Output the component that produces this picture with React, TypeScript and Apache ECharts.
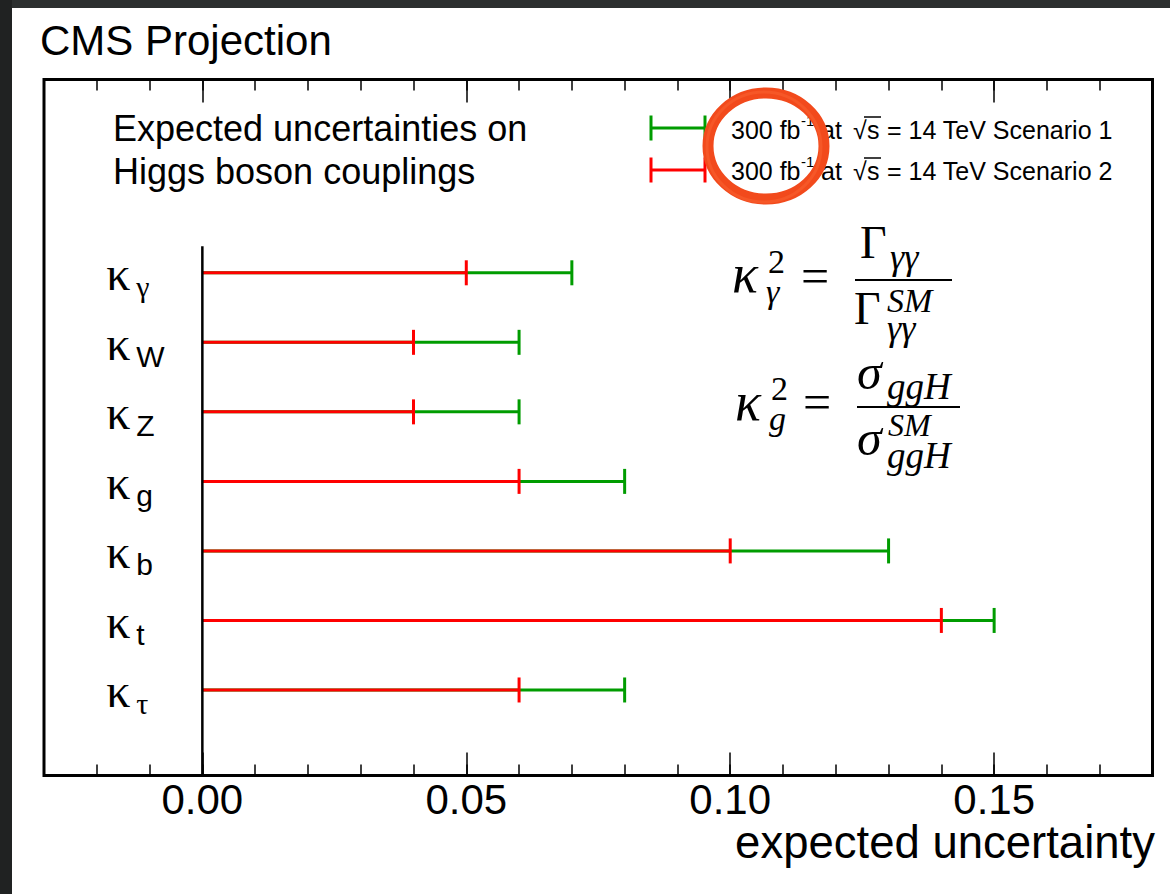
import { useEffect, useRef } from "react";
import * as echarts from "echarts";

// ---- data ----
const categories = ["γ", "W", "Z", "g", "b", "t", "τ"];
const greekSub = [true, false, false, false, false, false, true];
const scenario2 = [0.05, 0.04, 0.04, 0.06, 0.1, 0.14, 0.06]; // red
const scenario1 = [0.07, 0.06, 0.06, 0.08, 0.13, 0.15, 0.08]; // green
const minorTicks = [
  -0.02, -0.01, 0, 0.01, 0.02, 0.03, 0.04, 0.05, 0.06, 0.07, 0.08, 0.09, 0.1,
  0.11, 0.12, 0.13, 0.14, 0.15, 0.16, 0.17,
];
const majorTicks = [0, 0.05, 0.1, 0.15];
const axisLinePoints = [
  [0, -0.38],
  [0, 7.23],
];
const legendTexts = ["Scenario 1", "Scenario 2"];

const RED = "#ff0000";
const GREEN = "#009c00";
const SANS = "'Liberation Sans', Arial, Helvetica, sans-serif";
const SERIF = "'Liberation Serif', 'Times New Roman', serif";

function txt(
  text: string,
  x: number,
  y: number,
  size: number,
  opts: { family?: string; style?: string; align?: string; fill?: string; z?: number } = {}
) {
  const align = opts.align || "left";
  return {
    type: "text",
    x,
    y,
    z: opts.z ?? 10,
    silent: true,
    style: {
      text,
      fill: opts.fill || "#000",
      fontSize: size,
      fontFamily: opts.family || SANS,
      fontStyle: opts.style || "normal",
      align,
      textAlign: align,
      verticalAlign: "middle",
      textVerticalAlign: "middle",
    },
  };
}

function ln(x1: number, y1: number, x2: number, y2: number, color: string, w: number) {
  return {
    type: "line",
    z: 10,
    silent: true,
    shape: { x1, y1, x2, y2 },
    style: { stroke: color, lineWidth: w },
  };
}

function legendRow(y: number, color: string, textY: number, label: string) {
  const els: any[] = [
    ln(651, y, 705, y, color, 3),
    ln(651, y - 12.5, 651, y + 12.5, color, 3),
    ln(705, y - 12.5, 705, y + 12.5, color, 3),
    txt("300 fb", 731, textY, 25),
    txt("-1", 801, textY - 10, 15),
    txt("at", 821, textY, 25),
    txt("√", 853, textY, 25),
    txt("s", 867, textY, 25),
    ln(864, textY - 13, 881, textY - 13, "#000", 1.5),
    txt("= 14 TeV " + label, 887, textY, 25),
  ];
  return els;
}

export default function App() {
  const ref = useRef<HTMLDivElement>(null);

  useEffect(() => {
    document.body.style.margin = "0";
    if (!ref.current) return;
    const chart = echarts.init(ref.current, undefined, { renderer: "svg" });

    const xBase = {
      type: "value",
      min: -0.03,
      max: 0.18,
      gridIndex: 0,
      axisLine: { show: false, onZero: false },
      splitLine: { show: false },
    };

    const option: any = {
      animation: false,
      backgroundColor: "#ffffff",
      grid: {
        left: 44,
        right: 17.5,
        top: 79.5,
        bottom: 118.5,
        show: true,
        borderColor: "#000",
        borderWidth: 3,
        backgroundColor: "transparent",
      },
      xAxis: [
        {
          ...xBase,
          position: "bottom",
          axisTick: {
            show: true,
            inside: true,
            length: 11,
            customValues: minorTicks,
            lineStyle: { color: "#000", width: 1.5 },
          },
          axisLabel: { show: false },
        },
        {
          ...xBase,
          position: "bottom",
          axisTick: {
            show: true,
            inside: true,
            length: 23,
            customValues: majorTicks,
            lineStyle: { color: "#000", width: 1.5 },
          },
          axisLabel: {
            show: true,
            customValues: majorTicks,
            formatter: (v: number) => v.toFixed(2),
            fontSize: 42,
            fontFamily: SANS,
            color: "#000",
            margin: 3,
          },
        },
        {
          ...xBase,
          position: "top",
          axisTick: {
            show: true,
            inside: true,
            length: 11,
            customValues: minorTicks,
            lineStyle: { color: "#000", width: 1.5 },
          },
          axisLabel: { show: false },
        },
        {
          ...xBase,
          position: "top",
          axisTick: {
            show: true,
            inside: true,
            length: 23,
            customValues: majorTicks,
            lineStyle: { color: "#000", width: 1.5 },
          },
          axisLabel: { show: false },
        },
      ],
      yAxis: {
        type: "value",
        min: -2.78,
        max: 7.23,
        inverse: true,
        show: false,
        axisLine: { onZero: false },
        splitLine: { show: false },
      },
      series: [
        {
          type: "custom",
          xAxisIndex: 0,
          yAxisIndex: 0,
          encode: { x: [1, 2], y: 0 },
          data: categories.map((_, i) => [i, scenario2[i], scenario1[i]]),
          z: 3,
          renderItem: (_params: any, api: any) => {
            const i = api.value(0);
            const r = api.value(1);
            const g = api.value(2);
            const p0 = api.coord([0, i]);
            const pr = api.coord([r, i]);
            const pg = api.coord([g, i]);
            const cap = 12.5;
            const st = (c: string) => ({ stroke: c, lineWidth: 3 });
            return {
              type: "group",
              children: [
                { type: "line", shape: { x1: p0[0], y1: p0[1], x2: pg[0], y2: pg[1] }, style: st(GREEN) },
                { type: "line", shape: { x1: pg[0], y1: pg[1] - cap, x2: pg[0], y2: pg[1] + cap }, style: st(GREEN) },
                { type: "line", shape: { x1: p0[0], y1: p0[1], x2: pr[0], y2: pr[1] }, style: st(RED) },
                { type: "line", shape: { x1: pr[0], y1: pr[1] - cap, x2: pr[0], y2: pr[1] + cap }, style: st(RED) },
              ],
            };
          },
        },
        {
          type: "custom",
          xAxisIndex: 0,
          yAxisIndex: 0,
          encode: { x: 1, y: 0 },
          data: categories.map((_, i) => [i, 0]),
          z: 4,
          renderItem: (params: any, api: any) => {
            const i = api.value(0);
            const p = api.coord([0, i]);
            const idx = params.dataIndex;
            const sub = categories[idx];
            const greek = greekSub[idx];
            return {
              type: "group",
              children: [
                {
                  type: "text",
                  style: {
                    text: "κ",
                    x: p[0] - 96,
                    y: p[1] + 1,
                    fill: "#000",
                    fontSize: 48,
                    fontFamily: SERIF,
                    align: "left",
                    textAlign: "left",
                    verticalAlign: "middle",
                    textVerticalAlign: "middle",
                  },
                },
                {
                  type: "text",
                  style: {
                    text: sub,
                    x: p[0] - 66,
                    y: p[1] + 14,
                    fill: "#000",
                    fontSize: 30,
                    fontFamily: greek ? SERIF : SANS,
                    align: "left",
                    textAlign: "left",
                    verticalAlign: "middle",
                    textVerticalAlign: "middle",
                  },
                },
              ],
            };
          },
        },
        {
          type: "line",
          xAxisIndex: 0,
          yAxisIndex: 0,
          data: axisLinePoints,
          symbol: "none",
          z: 5,
          lineStyle: { color: "#000", width: 2.5 },
        },
      ],
      graphic: [
        // dark page edges
        { type: "rect", silent: true, shape: { x: 0, y: 0, width: 1170, height: 8 }, style: { fill: "#2c2f2f" } },
        { type: "rect", silent: true, shape: { x: 0, y: 0, width: 12, height: 894 }, style: { fill: "#202222" } },
        txt("CMS Projection", 40, 40, 42),
        txt("Expected uncertainties on", 113, 128, 36),
        txt("Higgs boson couplings", 113, 171, 36),
        ...legendRow(128, GREEN, 130, legendTexts[0]),
        ...legendRow(170, RED, 171, legendTexts[1]),
        // equation 1
        txt("κ", 732, 274, 54, { family: SERIF, style: "italic" }),
        txt("2", 768, 261, 34, { family: SERIF }),
        txt("γ", 766, 291, 34, { family: SERIF, style: "italic" }),
        txt("=", 801, 276, 50, { family: SERIF }),
        txt("Γ", 860, 242, 46, { family: SERIF }),
        txt("γγ", 890, 257, 36, { family: SERIF, style: "italic" }),
        ln(855, 280, 952, 280, "#000", 2),
        txt("Γ", 854, 308, 46, { family: SERIF }),
        txt("SM", 887, 300, 34, { family: SERIF, style: "italic" }),
        txt("γγ", 887, 328, 36, { family: SERIF, style: "italic" }),
        // equation 2
        txt("κ", 735, 402, 54, { family: SERIF, style: "italic" }),
        txt("2", 771, 388, 34, { family: SERIF }),
        txt("g", 769, 418, 34, { family: SERIF, style: "italic" }),
        txt("=", 803, 402, 50, { family: SERIF }),
        txt("σ", 857, 372, 50, { family: SERIF, style: "italic" }),
        txt("ggH", 887, 386, 37, { family: SERIF, style: "italic" }),
        ln(857, 407, 960, 407, "#000", 2),
        txt("σ", 857, 438, 50, { family: SERIF, style: "italic" }),
        txt("SM", 888, 425, 32, { family: SERIF, style: "italic" }),
        txt("ggH", 887, 455, 37, { family: SERIF, style: "italic" }),
        // axis title
        txt("expected uncertainty", 1155, 842, 45.5, { align: "right" }),
        // hand-drawn highlight circle
        {
          type: "ellipse",
          silent: true,
          z: 20,
          shape: { cx: 766, cy: 146, rx: 58, ry: 53 },
          style: { fill: "rgba(0,0,0,0)", stroke: "#f24a1c", lineWidth: 11 },
        },
        {
          type: "ellipse",
          silent: true,
          z: 21,
          shape: { cx: 764, cy: 147, rx: 57, ry: 55 },
          style: { fill: "rgba(0,0,0,0)", stroke: "#f65a2a", lineWidth: 3, opacity: 0.8 },
        },
      ],
    };

    chart.setOption(option);
    return () => chart.dispose();
  }, []);

  return <div ref={ref} style={{ width: 1170, height: 894 }} />;
}
